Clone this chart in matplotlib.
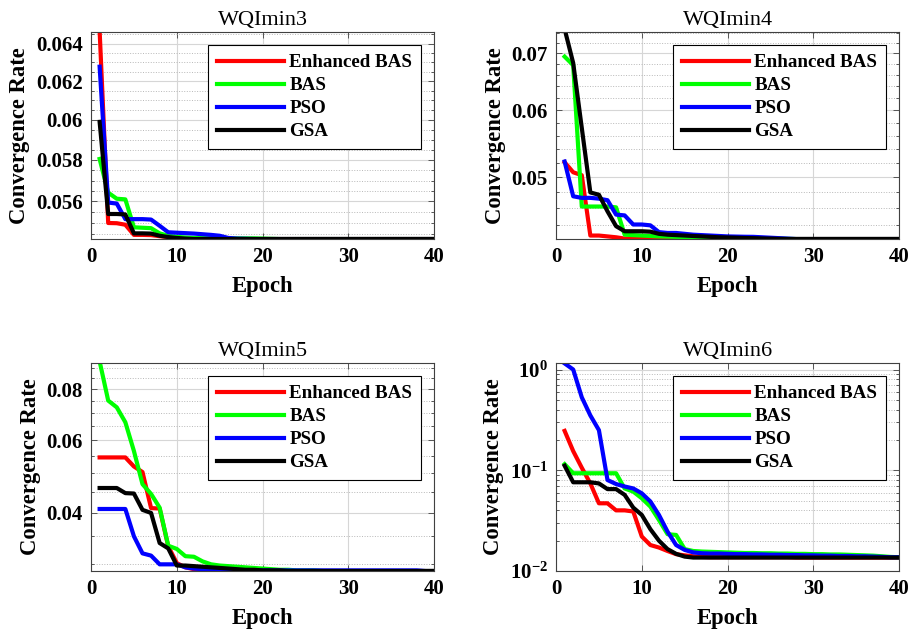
import numpy as np
import matplotlib
matplotlib.use('Agg')
import matplotlib.pyplot as plt
from matplotlib.ticker import FixedLocator, FuncFormatter, NullFormatter

plt.rcParams['font.family'] = ['Liberation Serif', 'DejaVu Serif']
plt.rcParams['font.weight'] = 'bold'
plt.rcParams['axes.labelweight'] = 'bold'
plt.rcParams['mathtext.fontset'] = 'custom'
plt.rcParams['mathtext.rm'] = 'Liberation Serif:bold'
plt.rcParams['mathtext.bf'] = 'Liberation Serif:bold'
plt.rcParams['mathtext.it'] = 'Liberation Serif:bold:italic'

epochs = np.arange(1, 41)
names = ['Enhanced BAS', 'BAS', 'PSO', 'GSA']
colors = ['#ff0000', '#00ff00', '#0000ff', '#000000']

# WQImin3
a_ebas = [0.0647, 0.05499, 0.05498, 0.05491, 0.05444, 0.05444, 0.05443, 0.05438, 0.05434, 0.05430,
          0.05428, 0.05427, 0.05426, 0.05426, 0.05425, 0.05425, 0.05425, 0.05425, 0.05425, 0.05425,
          0.05425, 0.05425, 0.05425, 0.05425, 0.05425, 0.05425, 0.05425, 0.05425, 0.05425, 0.05425,
          0.05425, 0.05425, 0.05425, 0.05425, 0.05425, 0.05425, 0.05425, 0.05425, 0.05425, 0.05425]
a_bas = [0.05805, 0.05642, 0.05613, 0.05610, 0.05479, 0.05477, 0.05475, 0.05451, 0.05440, 0.05435,
         0.05432, 0.05430, 0.05429, 0.05429, 0.05428, 0.05428, 0.05428, 0.05428, 0.05428, 0.05427,
         0.05426, 0.05425, 0.05425, 0.05425, 0.05425, 0.05425, 0.05425, 0.05425, 0.05425, 0.05425,
         0.05425, 0.05425, 0.05425, 0.05425, 0.05425, 0.05425, 0.05425, 0.05425, 0.05425, 0.05425]
a_pso = [0.06276, 0.05595, 0.05590, 0.05517, 0.05517, 0.05517, 0.05515, 0.05486, 0.05456, 0.05454,
         0.05452, 0.05450, 0.05447, 0.05444, 0.05440, 0.05430, 0.05427, 0.05426, 0.05425, 0.05425,
         0.05425, 0.05425, 0.05425, 0.05425, 0.05425, 0.05425, 0.05425, 0.05425, 0.05425, 0.05425,
         0.05425, 0.05425, 0.05425, 0.05425, 0.05425, 0.05425, 0.05425, 0.05425, 0.05425, 0.05425]
a_gsa = [0.05990, 0.05541, 0.05541, 0.05539, 0.05451, 0.05451, 0.05450, 0.05440, 0.05434, 0.05430,
         0.05427, 0.05425, 0.05425, 0.05425, 0.05425, 0.05425, 0.05425, 0.05425, 0.05425, 0.05425,
         0.05425, 0.05425, 0.05425, 0.05425, 0.05425, 0.05425, 0.05425, 0.05425, 0.05425, 0.05425,
         0.05425, 0.05425, 0.05425, 0.05425, 0.05425, 0.05425, 0.05425, 0.05425, 0.05425, 0.05425]

# WQImin4
b_ebas = [0.0521, 0.0507, 0.0503, 0.0427, 0.0427, 0.0426, 0.0425, 0.04235, 0.04233, 0.04232,
          0.04231, 0.0423, 0.0423, 0.0423, 0.0423, 0.0423, 0.0423, 0.0423, 0.0423, 0.0423,
          0.0423, 0.0423, 0.0423, 0.0423, 0.0423, 0.0423, 0.0423, 0.0423, 0.0423, 0.0423,
          0.0423, 0.0423, 0.0423, 0.0423, 0.0423, 0.0423, 0.0423, 0.0423, 0.0423, 0.0423]
b_bas = [0.0694, 0.0678, 0.0462, 0.0462, 0.0462, 0.0462, 0.0461, 0.0428, 0.04275, 0.0427,
         0.04265, 0.0426, 0.04258, 0.04255, 0.04252, 0.0425, 0.0425, 0.04248, 0.04246, 0.04245,
         0.04244, 0.04242, 0.0424, 0.04238, 0.04236, 0.04234, 0.04232, 0.0423, 0.0423, 0.0423,
         0.0423, 0.0423, 0.0423, 0.0423, 0.0423, 0.0423, 0.0423, 0.0423, 0.0423, 0.0423]
b_pso = [0.0522, 0.0475, 0.0473, 0.0473, 0.0472, 0.0470, 0.0452, 0.0451, 0.0440, 0.0440,
         0.0439, 0.0431, 0.0430, 0.0430, 0.0429, 0.0428, 0.04275, 0.0427, 0.04265, 0.0426,
         0.04258, 0.04256, 0.04255, 0.0425, 0.04245, 0.0424, 0.04235, 0.0423, 0.0423, 0.0423,
         0.0423, 0.0423, 0.0423, 0.0423, 0.0423, 0.0423, 0.0423, 0.0423, 0.0423, 0.0423]
b_gsa = [0.0748, 0.0682, 0.0572, 0.0480, 0.0477, 0.0456, 0.0438, 0.0432, 0.0432, 0.0432,
         0.04315, 0.0429, 0.0428, 0.04275, 0.0427, 0.04265, 0.0426, 0.04255, 0.0425, 0.04248,
         0.04245, 0.04242, 0.0424, 0.04237, 0.04235, 0.04232, 0.0423, 0.0423, 0.0423, 0.0423,
         0.0423, 0.0423, 0.0423, 0.0423, 0.0423, 0.0423, 0.0423, 0.0423, 0.0423, 0.0423]

# WQImin5
c_ebas = [0.0545, 0.0545, 0.0545, 0.0545, 0.0518, 0.0502, 0.0410, 0.0409, 0.0331, 0.0301,
          0.0294, 0.0291, 0.0290, 0.0289, 0.0289, 0.0289, 0.0289, 0.0288, 0.0288, 0.0288,
          0.0288, 0.0288, 0.0288, 0.0288, 0.0288, 0.0288, 0.0288, 0.0288, 0.0288, 0.0288,
          0.0288, 0.0288, 0.0288, 0.0288, 0.0288, 0.0288, 0.0288, 0.0288, 0.0288, 0.0288]
c_bas = [0.0935, 0.0750, 0.0722, 0.0664, 0.0565, 0.0469, 0.0444, 0.0411, 0.0332, 0.0326,
         0.0313, 0.0312, 0.0304, 0.0299, 0.0297, 0.0296, 0.0295, 0.0294, 0.0293, 0.0292,
         0.0291, 0.0290, 0.0290, 0.0289, 0.0289, 0.0289, 0.0288, 0.0288, 0.0288, 0.0288,
         0.0288, 0.0288, 0.0288, 0.0288, 0.0288, 0.0288, 0.0288, 0.0288, 0.0288, 0.0288]
c_pso = [0.0408, 0.0408, 0.0408, 0.0408, 0.0350, 0.0318, 0.0314, 0.0299, 0.0299, 0.0299,
         0.0294, 0.0292, 0.0291, 0.0290, 0.0290, 0.0290, 0.0289, 0.0289, 0.0289, 0.0289,
         0.0289, 0.0289, 0.0289, 0.0289, 0.0289, 0.0289, 0.0289, 0.0289, 0.0289, 0.0289,
         0.0289, 0.0289, 0.0289, 0.0289, 0.0289, 0.0289, 0.0289, 0.0289, 0.0288, 0.0288]
c_gsa = [0.0459, 0.0459, 0.0459, 0.0446, 0.0445, 0.0406, 0.0399, 0.0337, 0.0327, 0.0297,
         0.0297, 0.0296, 0.0295, 0.0294, 0.0293, 0.0292, 0.0291, 0.0290, 0.0290, 0.0289,
         0.0289, 0.0289, 0.0288, 0.0288, 0.0288, 0.0288, 0.0288, 0.0288, 0.0288, 0.0288,
         0.0288, 0.0288, 0.0288, 0.0288, 0.0288, 0.0288, 0.0288, 0.0288, 0.0288, 0.0288]

# WQImin6
d_ebas = [0.246, 0.155, 0.106, 0.074, 0.047, 0.047, 0.040, 0.040, 0.039, 0.022,
          0.0181, 0.0171, 0.0158, 0.0147, 0.0143, 0.0140, 0.0138, 0.0137, 0.0137, 0.0137,
          0.0137, 0.0137, 0.0137, 0.0137, 0.0137, 0.0137, 0.0137, 0.0136, 0.0136, 0.0136,
          0.0136, 0.0136, 0.0136, 0.0136, 0.0136, 0.0136, 0.0136, 0.0136, 0.0136, 0.0136]
d_bas = [0.115, 0.0934, 0.0934, 0.0934, 0.0934, 0.0934, 0.0934, 0.066, 0.0614, 0.0527,
         0.0436, 0.0321, 0.0232, 0.0228, 0.0165, 0.0158, 0.0156, 0.0155, 0.0154, 0.0153,
         0.0152, 0.0151, 0.0151, 0.0150, 0.0150, 0.0149, 0.0149, 0.0148, 0.0148, 0.0147,
         0.0147, 0.0146, 0.0146, 0.0145, 0.0144, 0.0143, 0.0142, 0.0140, 0.0138, 0.0137]
d_pso = [1.15, 1.0, 0.53, 0.35, 0.25, 0.080, 0.073, 0.069, 0.066, 0.059,
         0.049, 0.036, 0.0246, 0.0181, 0.0162, 0.0153, 0.0150, 0.0149, 0.0149, 0.0148,
         0.0147, 0.0147, 0.0146, 0.0146, 0.0145, 0.0145, 0.0144, 0.0144, 0.0143, 0.0143,
         0.0142, 0.0142, 0.0141, 0.0141, 0.0140, 0.0140, 0.0139, 0.0138, 0.0137, 0.0137]
d_gsa = [0.111, 0.076, 0.076, 0.076, 0.074, 0.065, 0.065, 0.057, 0.0426, 0.036,
         0.026, 0.020, 0.0165, 0.0148, 0.0139, 0.0136, 0.0136, 0.0136, 0.0136, 0.0136,
         0.0136, 0.0136, 0.0136, 0.0136, 0.0136, 0.0136, 0.0136, 0.0136, 0.0136, 0.0136,
         0.0136, 0.0136, 0.0136, 0.0136, 0.0136, 0.0136, 0.0136, 0.0136, 0.0136, 0.0136]

# tick values per panel
a_major = [0.056, 0.058, 0.060, 0.062, 0.064]
a_minor = [0.0545, 0.0550, 0.0555, 0.0565, 0.0570, 0.0575, 0.0585, 0.0590, 0.0595,
           0.0605, 0.0610, 0.0615, 0.0625, 0.0630, 0.0635, 0.0645]
b_major = [0.05, 0.06, 0.07]
b_minor = [0.044, 0.046, 0.048, 0.052, 0.054, 0.056, 0.058, 0.062, 0.064, 0.066, 0.068,
           0.072, 0.074]
c_major = [0.04, 0.06, 0.08]
c_minor = [0.030, 0.035, 0.045, 0.050, 0.055, 0.065, 0.070, 0.075, 0.085, 0.090]
d_major = [0.01, 0.1, 1.0]
d_minor = [0.02, 0.03, 0.04, 0.05, 0.06, 0.07, 0.08, 0.09,
           0.2, 0.3, 0.4, 0.5, 0.6, 0.7, 0.8, 0.9]


def dec_fmt(v, pos):
    return '%g' % round(v, 4)


def pow_fmt(v, pos):
    return r'$10^{%d}$' % int(round(np.log10(v)))


fig = plt.figure(figsize=(9.15, 6.32), dpi=100)
fig.patch.set_facecolor('white')

panels = [
    ([0.0995, 0.6218, 0.3749, 0.3276], 'WQImin3', [a_ebas, a_bas, a_pso, a_gsa], (0.05425, 0.06463), a_major, a_minor, dec_fmt),
    ([0.6077, 0.6218, 0.3749, 0.3276], 'WQImin4', [b_ebas, b_bas, b_pso, b_gsa], (0.0423, 0.0742), b_major, b_minor, dec_fmt),
    ([0.0995, 0.0965, 0.3749, 0.3291], 'WQImin5', [c_ebas, c_bas, c_pso, c_gsa], (0.0288, 0.0926), c_major, c_minor, dec_fmt),
    ([0.6077, 0.0965, 0.3749, 0.3291], 'WQImin6', [d_ebas, d_bas, d_pso, d_gsa], (0.01, 1.16), d_major, d_minor, pow_fmt),
]

for rect, title, series, ylim, major, minor, fmt in panels:
    ax = fig.add_axes(rect)
    for vals, c, n in zip(series, colors, names):
        ax.plot(epochs, vals, color=c, lw=3, label=n, solid_joinstyle='round')
    ax.set_yscale('log')
    ax.set_xlim(0, 40)
    ax.set_ylim(*ylim)
    ax.set_xticks([0, 10, 20, 30, 40])
    ax.yaxis.set_major_locator(FixedLocator(major))
    ax.yaxis.set_minor_locator(FixedLocator(minor))
    ax.yaxis.set_major_formatter(FuncFormatter(fmt))
    ax.yaxis.set_minor_formatter(NullFormatter())
    ax.grid(True, which='major', color='#d6d6d6', lw=0.8)
    ax.grid(True, which='minor', axis='y', color='#b8b8b8', lw=0.7, ls=':')
    ax.set_axisbelow(True)
    ax.tick_params(which='both', direction='in', top=True, right=True,
                   labelsize=15, pad=6, color='#404040', width=0.6)
    ax.tick_params(which='major', length=4)
    ax.tick_params(which='minor', length=2)
    for s in ax.spines.values():
        s.set_color('#404040')
        s.set_linewidth(0.8)
    ax.set_title(title, fontsize=16, fontweight='normal', pad=5)
    ax.set_xlabel('Epoch', fontsize=16.3, fontweight='bold', labelpad=6)
    ax.set_ylabel('Convergence Rate', fontsize=16.3, fontweight='bold', labelpad=4)
    leg = ax.legend(loc='upper right', fontsize=13.7, handlelength=3.5,
                    handletextpad=0.3, borderpad=0.45, labelspacing=0.3,
                    borderaxespad=0.7, fancybox=False, framealpha=1)
    leg.get_frame().set_edgecolor('#000000')
    leg.get_frame().set_linewidth(0.8)

fig.savefig('out.png', dpi=100, facecolor='white')
